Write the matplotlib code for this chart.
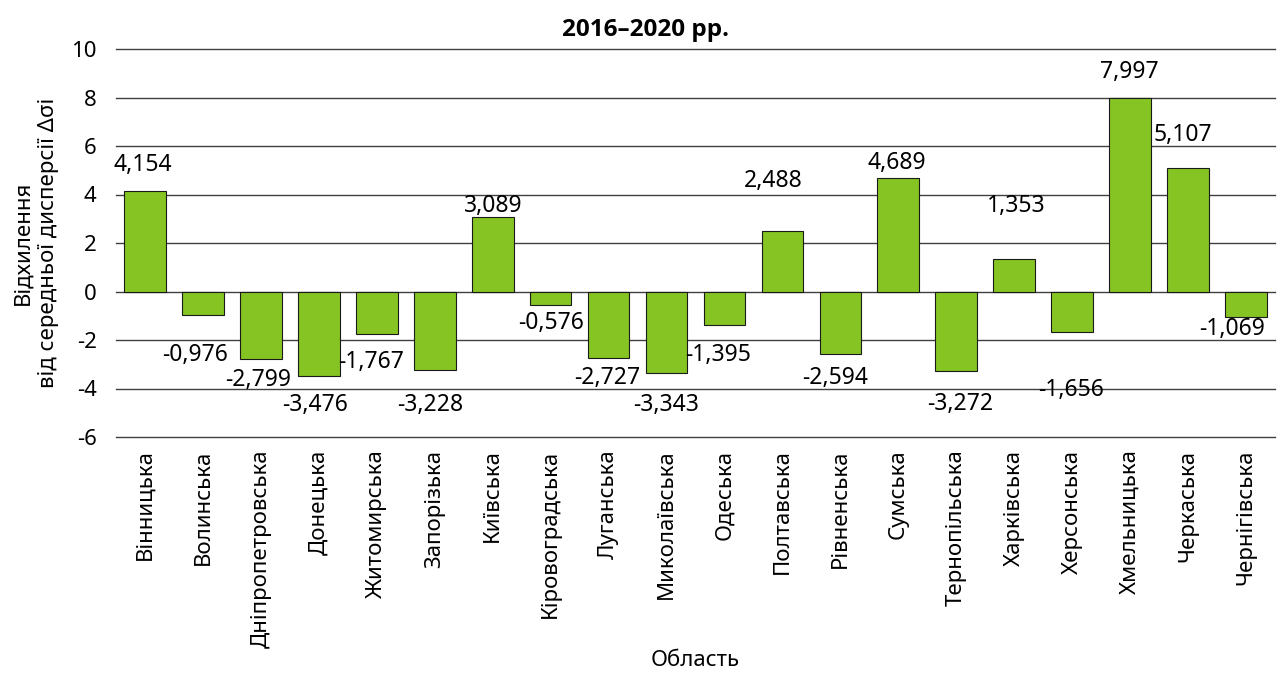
import matplotlib
matplotlib.use("Agg")
import matplotlib.pyplot as plt

plt.rcParams['font.family'] = ['Noto Sans', 'DejaVu Sans']
plt.rcParams['axes.unicode_minus'] = False

categories = ["Вінницька", "Волинська", "Дніпропетровська", "Донецька", "Житомирська",
              "Запорізька", "Київська", "Кіровоградська", "Луганська", "Миколаївська",
              "Одеська", "Полтавська", "Рівненська", "Сумська", "Тернопільська",
              "Харківська", "Херсонська", "Хмельницька", "Черкаська", "Чернігівська"]
values = [4.154, -0.976, -2.799, -3.476, -1.767, -3.228, 3.089, -0.576, -2.727, -3.343,
          -1.395, 2.488, -2.594, 4.689, -3.272, 1.353, -1.656, 7.997, 5.107, -1.069]
# label offsets (pixels) relative to bar end
label_dx = [-2, -8, -3, -4, -6, -5, 1, 0, -1, 0, -6, -9, -5, -2, 4, 2, -1, -1, -5, -14]
label_dy = [26, 40, 21, 29, 28, 35, 11, 18, 20, 32, 30, 50, 24, 15, 33, 53, 58, 26, 33, 12]

fig = plt.figure(figsize=(12.82, 6.75), dpi=100)
ax = fig.add_axes([116/1282, 1-437/675, (1275-116)/1282, (437-49)/675])

x = list(range(len(categories)))
ax.bar(x, values, width=0.72, color="#86C424", edgecolor="#1a1a1a", linewidth=0.8, zorder=3)
ax.set_xlim(-0.5, len(categories)-0.5)
ax.set_ylim(-6, 10)
ax.set_yticks(range(-6, 11, 2))
ax.yaxis.grid(True, color="#404040", linewidth=1.0, zorder=0)
for gl in ax.get_ygridlines():
    gl.set_clip_on(False)
for s in ax.spines.values():
    s.set_visible(False)
ax.tick_params(axis='both', length=0, labelsize=16)
ax.tick_params(axis='y', pad=14)
ax.set_xticks(x)
ax.set_xticklabels(categories, rotation=90, fontsize=16)
ax.tick_params(axis='x', pad=9)

for i, v in enumerate(values):
    txt = f"{v:.3f}".replace(".", ",")
    dy = label_dy[i] if v >= 0 else -label_dy[i]
    ax.annotate(txt, (i, v), xytext=(label_dx[i], dy), textcoords="offset pixels",
                ha="center", va="center", fontsize=16.5, zorder=4)

fig.text(695/1282, 1-661/675, "Область", ha="center", va="center", fontsize=16)
fig.text(36/1282, 1-243/675, "Відхилення\nвід середньої дисперсії Δσі", ha="center", va="center",
         rotation=90, fontsize=16, linespacing=1.3)
fig.text(645/1282, 1-30/675, "2016–2020 рр.", ha="center", va="center", fontsize=17.5,
         fontweight="bold", family=['Open Sans', 'DejaVu Sans'])

fig.savefig("out.png", dpi=100)
